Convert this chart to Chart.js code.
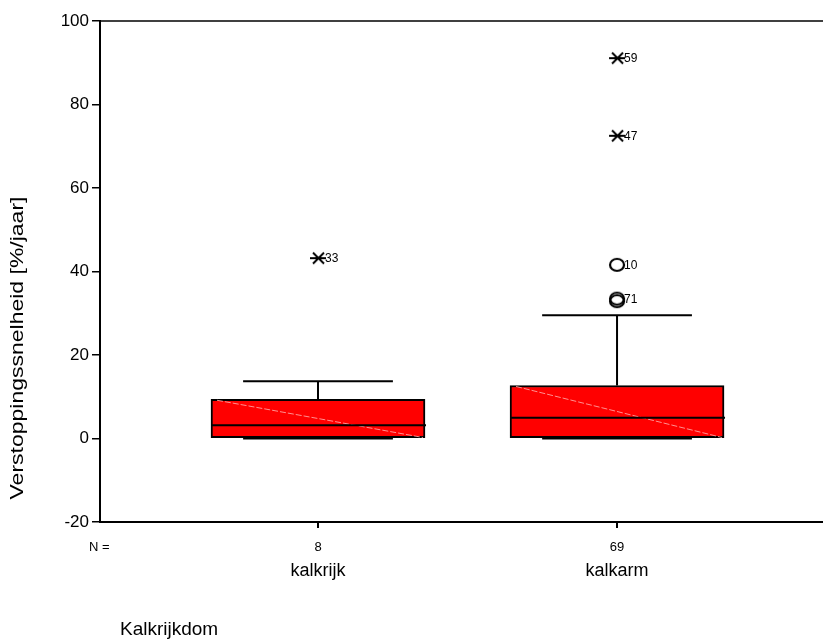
<!DOCTYPE html>
<html>
<head>
<meta charset="utf-8">
<script src="https://cdn.jsdelivr.net/npm/chart.js@4/dist/chart.umd.min.js"></script>
<style>
  html, body { margin: 0; padding: 0; background: #fff; }
  #wrap { width: 823px; height: 639px; }
</style>
</head>
<body>
<div id="wrap"><canvas id="c" width="823" height="639"></canvas></div>
<script>
// ---- data ----
const categories = ['kalkrijk', 'kalkarm'];
const counts = [8, 69];
const q1 = [0, 0];
const q3 = [9.4, 12.7];
const medians = [3.2, 5.0];
const whiskerLow = [0, 0];
const whiskerHigh = [13.7, 29.5];
const outlierCategory = ['kalkrijk', 'kalkarm', 'kalkarm', 'kalkarm', 'kalkarm', 'kalkarm'];
const outlierValues = [43.2, 91.1, 72.5, 41.6, 33.5, 32.9];
const outlierIds = ['33', '59', '47', '10', '71', ''];
const outlierKinds = ['extreme', 'extreme', 'extreme', 'outlier', 'outlier', 'outlier'];
const yTicks = [-20, 0, 20, 40, 60, 80, 100];
const yTitle = 'Verstoppingssnelheid [%/jaar]';
const xTitle = 'Kalkrijkdom';

const FONT = "'Liberation Sans', Arial, sans-serif";

// marker images
function makeAsterisk() {
  const c = document.createElement('canvas');
  c.width = 18; c.height = 14;
  const g = c.getContext('2d');
  g.strokeStyle = '#000'; g.lineWidth = 2;
  g.beginPath();
  g.moveTo(4, 1.5); g.lineTo(15, 12.5);
  g.moveTo(15, 1.5); g.lineTo(4, 12.5);
  g.moveTo(1, 7); g.lineTo(17, 7);
  g.stroke();
  return c;
}
function makeCircle() {
  const c = document.createElement('canvas');
  c.width = 18; c.height = 16;
  const g = c.getContext('2d');
  g.strokeStyle = '#000'; g.lineWidth = 2.2;
  g.beginPath();
  g.ellipse(9, 8, 7, 6, 0, 0, Math.PI * 2);
  g.stroke();
  return c;
}
const asteriskImg = makeAsterisk();
const circleImg = makeCircle();

const boxData = categories.map((c, i) => ({ x: i + 1, y: [q1[i], q3[i]] }));
const extremeData = [];
const outlierData = [];
outlierValues.forEach((v, i) => {
  const p = { x: categories.indexOf(outlierCategory[i]) + 1, y: v };
  (outlierKinds[i] === 'extreme' ? extremeData : outlierData).push(p);
});

const boxPlugin = {
  id: 'boxExtras',
  afterDatasetsDraw(chart) {
    const ctx = chart.ctx;
    const xs = chart.scales.x, ys = chart.scales.y;
    const area = chart.chartArea;
    ctx.save();
    // top border + extension of bottom axis to the right edge
    ctx.strokeStyle = '#000';
    ctx.lineWidth = 1.5;
    ctx.beginPath();
    ctx.moveTo(area.left, area.top);
    ctx.lineTo(chart.width, area.top);
    ctx.stroke();
    ctx.lineWidth = 2;
    ctx.beginPath();
    ctx.moveTo(area.right - 1, area.bottom);
    ctx.lineTo(chart.width, area.bottom);
    ctx.stroke();

    const meta = chart.getDatasetMeta(0);
    categories.forEach((c, i) => {
      const bar = meta.data[i];
      const half = bar.width / 2;
      const cx = xs.getPixelForValue(i + 1);
      const yTop = ys.getPixelForValue(q3[i]);
      const yBot = ys.getPixelForValue(q1[i]);
      // faint diagonal artifact
      ctx.strokeStyle = 'rgba(255,160,160,0.9)';
      ctx.lineWidth = 1;
      ctx.setLineDash([6, 2]);
      ctx.beginPath();
      ctx.moveTo(cx - half + 6, yTop + 1);
      ctx.lineTo(cx + half - 2, yBot - 1);
      ctx.stroke();
      ctx.setLineDash([]);
      // median
      ctx.strokeStyle = '#000';
      ctx.lineWidth = 2;
      const ym = ys.getPixelForValue(medians[i]);
      ctx.beginPath();
      ctx.moveTo(cx - half, ym);
      ctx.lineTo(cx + half + 1, ym);
      ctx.stroke();
      // whiskers
      const capHalf = half * 0.7;
      const yHi = ys.getPixelForValue(whiskerHigh[i]);
      const yLo = ys.getPixelForValue(whiskerLow[i]);
      ctx.beginPath();
      ctx.moveTo(cx, yTop);
      ctx.lineTo(cx, yHi);
      ctx.moveTo(cx - capHalf, yHi);
      ctx.lineTo(cx + capHalf, yHi);
      ctx.moveTo(cx - capHalf, yLo);
      ctx.lineTo(cx + capHalf, yLo);
      ctx.stroke();
      // counts
      ctx.fillStyle = '#000';
      ctx.font = '13px ' + FONT;
      ctx.textAlign = 'center';
      ctx.textBaseline = 'middle';
      ctx.fillText(String(counts[i]), cx, area.bottom + 25);
    });
    ctx.font = '13px ' + FONT;
    ctx.textAlign = 'left';
    ctx.textBaseline = 'middle';
    ctx.fillText('N =', 89, area.bottom + 25);

    // outlier labels
    ctx.font = '12px ' + FONT;
    outlierValues.forEach((v, i) => {
      if (!outlierIds[i]) return;
      const x = xs.getPixelForValue(categories.indexOf(outlierCategory[i]) + 1);
      const y = ys.getPixelForValue(v);
      ctx.fillText(outlierIds[i], x + 7, y + 1);
    });

    // x title
    ctx.font = '19px ' + FONT;
    ctx.textBaseline = 'middle';
    ctx.fillText(xTitle, area.left + 20, 630);

    // y title (stretched along its length as in the reference)
    ctx.save();
    ctx.translate(18, 348);
    ctx.rotate(-Math.PI / 2);
    ctx.scale(1.21, 1);
    ctx.font = '19px ' + FONT;
    ctx.textAlign = 'center';
    ctx.textBaseline = 'middle';
    ctx.fillText(yTitle, 0, 0);
    ctx.restore();
    ctx.restore();
  }
};

new Chart(document.getElementById('c'), {
  type: 'bar',
  data: {
    datasets: [
      {
        type: 'bar',
        data: boxData,
        backgroundColor: '#ff0000',
        borderColor: '#000',
        borderWidth: 2,
        borderSkipped: false,
        barThickness: 214,
        order: 2
      },
      {
        type: 'scatter',
        data: extremeData,
        pointStyle: asteriskImg,
        pointRadius: 7,
        order: 1
      },
      {
        type: 'scatter',
        data: outlierData,
        pointStyle: circleImg,
        pointRadius: 7,
        order: 1
      }
    ]
  },
  options: {
    responsive: false,
    animation: false,
    events: [],
    layout: { padding: { top: 21, right: 0, left: 0, bottom: 0 } },
    plugins: { legend: { display: false }, tooltip: { enabled: false } },
    scales: {
      x: {
        type: 'linear',
        offset: false,
        min: 0.271,
        max: 2.662,
        afterBuildTicks(scale) { scale.ticks = categories.map((c, i) => ({ value: i + 1 })); },
        afterFit(scale) { scale.height = 117; },
        border: { display: true, color: '#000', width: 2 },
        grid: { offset: false, drawOnChartArea: false, drawTicks: true, tickLength: 6, color: '#000', lineWidth: 2 },
        ticks: {
          color: '#000',
          font: { family: FONT, size: 18 },
          padding: 32,
          maxRotation: 0,
          autoSkip: false,
          callback: (v) => categories[v - 1] || ''
        }
      },
      y: {
        min: yTicks[0],
        max: yTicks[yTicks.length - 1],
        afterBuildTicks(scale) { scale.ticks = yTicks.map(v => ({ value: v })); },
        afterFit(scale) { scale.width = 100; },
        border: { display: true, color: '#000', width: 2 },
        grid: { drawOnChartArea: false, drawTicks: true, tickLength: 8, color: '#000', lineWidth: 1.5 },
        ticks: { color: '#000', font: { family: FONT, size: 17 }, padding: 3 },
        title: { display: false }
      }
    }
  },
  plugins: [boxPlugin]
});
</script>
</body>
</html>
